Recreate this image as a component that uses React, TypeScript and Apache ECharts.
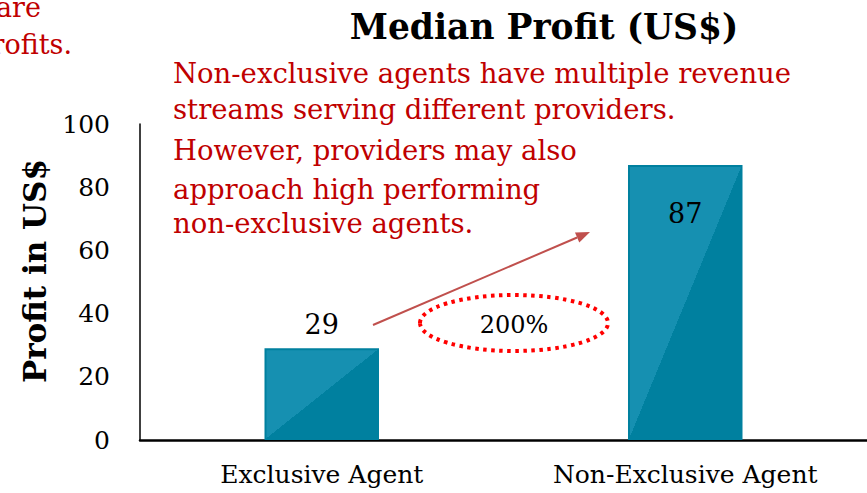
import React, { useEffect, useRef } from "react";
import * as echarts from "echarts";

const categories = ["Exclusive Agent", "Non-Exclusive Agent"];
const medianProfit = [29, 87];
const yTicks = [0, 20, 40, 60, 80, 100];
const titleText = "Median Profit (US$)";
const yAxisName = "Profit in US$";
const noteLines = [
  "Non-exclusive agents have multiple revenue",
  "streams serving different providers.",
  "However, providers may also",
  "approach high performing",
  "non-exclusive agents.",
];
const growthLabel = "200%";
const cutLines = ["are", "rofits."];

const FONT = "'DejaVu Serif', Georgia, serif";
const DARK = "#00809F";
const LIGHT = "#1690B1";
const RED = "#C00000";

export default function App() {
  const ref = useRef<HTMLDivElement>(null);
  useEffect(() => {
    if (!ref.current) return;
    const chart = echarts.init(ref.current, null, { renderer: "svg" });
    const fill = {
      type: "linear",
      x: 0,
      y: 0,
      x2: 1,
      y2: 1,
      colorStops: [
        { offset: 0, color: LIGHT },
        { offset: 0.5, color: LIGHT },
        { offset: 0.5, color: DARK },
        { offset: 1, color: DARK },
      ],
    };
    const ax1 = 373, ay1 = 325, ax2 = 590, ay2 = 232;
    const dx = ax2 - ax1, dy = ay2 - ay1;
    const len = Math.sqrt(dx * dx + dy * dy);
    const ux = dx / len, uy = dy / len;
    const bx = ax2 - ux * 14, by = ay2 - uy * 14;
    const nx = -uy * 5.5, ny = ux * 5.5;

    chart.setOption({
      animation: false,
      grid: { left: 140, right: 0, top: 124, bottom: 53 },
      title: {
        text: titleText,
        left: 539,
        textAlign: "center",
        top: 4,
        textStyle: { fontFamily: FONT, fontWeight: "bold", fontSize: 34.5, color: "#000" },
      },
      xAxis: {
        type: "category",
        data: categories,
        axisLine: { lineStyle: { color: "#000", width: 2.5 } },
        axisTick: { show: false },
        axisLabel: { fontFamily: FONT, fontSize: 25, color: "#000", margin: 22 },
      },
      yAxis: {
        type: "value",
        min: 0,
        max: 100,
        interval: 20,
        name: yAxisName,
        nameLocation: "middle",
        nameGap: 90,
        nameTextStyle: {
          fontFamily: FONT,
          fontWeight: "bold",
          fontSize: 31,
          color: "#000",
          padding: [0, 0, 0, 22],
        },
        axisLine: { show: true, lineStyle: { color: "#000", width: 1.5 } },
        axisTick: { show: false },
        splitLine: { show: false },
        axisLabel: {
          fontFamily: FONT,
          fontSize: 25,
          color: "#000",
          margin: 30,
          formatter: (v: number) => (yTicks.includes(v) ? String(v) : ""),
        },
      },
      series: [
        {
          type: "bar",
          data: medianProfit.map((v, i) => ({
            value: v,
            label:
              i === 0
                ? { show: true, position: "top", distance: 10 }
                : { show: true, position: "insideTop", distance: 35 },
          })),
          barWidth: "31.5%",
          itemStyle: { color: fill, borderColor: DARK, borderWidth: 2 },
          label: { fontFamily: FONT, fontSize: 27, color: "#000" },
        },
      ],
      graphic: [
        ...cutLines.map((t, i) => ({
          type: "text",
          x: i === 0 ? 41 : 72,
          y: i === 0 ? 7 : 44,
          style: {
            text: t,
            fontFamily: FONT,
            fontSize: 27,
            fill: RED,
            align: "right",
            verticalAlign: "middle",
          },
        })),
        ...noteLines.map((t, i) => ({
          type: "text",
          x: 173,
          y: [73, 109, 150, 189, 223][i],
          style: {
            text: t,
            fontFamily: FONT,
            fontSize: 27.5,
            fill: RED,
            align: "left",
            verticalAlign: "middle",
          },
        })),
        {
          type: "line",
          shape: { x1: ax1, y1: ay1, x2: bx, y2: by },
          style: { stroke: "#C0504D", lineWidth: 2 },
        },
        {
          type: "polygon",
          shape: {
            points: [
              [ax2, ay2],
              [bx + nx, by + ny],
              [bx - nx, by - ny],
            ],
          },
          style: { fill: "#C0504D" },
        },
        {
          type: "ellipse",
          shape: { cx: 514, cy: 323, rx: 94, ry: 28 },
          style: { fill: "none", stroke: "#FF0000", lineWidth: 4, lineDash: [3.5, 4.5] },
        },
        {
          type: "text",
          x: 514,
          y: 325,
          style: {
            text: growthLabel,
            fontFamily: FONT,
            fontSize: 24,
            fill: "#000",
            align: "center",
            verticalAlign: "middle",
          },
        },
      ],
    });
    return () => chart.dispose();
  }, []);
  return (
    <div
      ref={ref}
      style={{ position: "absolute", left: 0, top: 0, width: 867, height: 493 }}
    />
  );
}
